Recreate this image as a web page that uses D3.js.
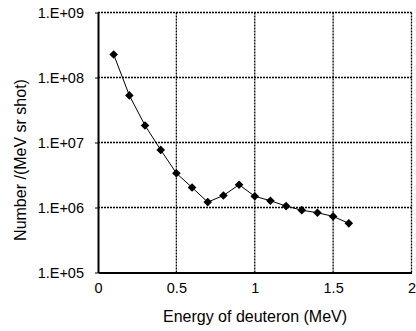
<!DOCTYPE html>
<html>
<head>
<meta charset="utf-8">
<script src="https://cdn.jsdelivr.net/npm/d3@7"></script>
<style>
  body { margin: 0; background: #fff; }
  text { font-family: "Liberation Sans", Arial, sans-serif; fill: #000; }
</style>
</head>
<body>
<svg id="chart" width="416" height="331"></svg>
<script>
// data
let energy = [0.1, 0.2, 0.3, 0.4, 0.5, 0.6, 0.7, 0.8, 0.9, 1.0, 1.1, 1.2, 1.3, 1.4, 1.5, 1.6];
let number = [2.26e8, 5.3e7, 1.83e7, 7.7e6, 3.37e6, 2.03e6, 1.21e6, 1.53e6, 2.24e6, 1.49e6, 1.27e6, 1.05e6, 9.1e5, 8.3e5, 7.3e5, 5.7e5];
let xTicks = [0, 0.5, 1, 1.5, 2];
let xTickLabels = ["0", "0.5", "1", "1.5", "2"];
let yTicks = [1e5, 1e6, 1e7, 1e8, 1e9];
let yTickLabels = ["1.E+05", "1.E+06", "1.E+07", "1.E+08", "1.E+09"];

let svg = d3.select("#chart");
let pLeft = 98, pRight = 411.5, pTop = 12.5, pBottom = 272.5;

let xscale = d3.scaleLinear().domain([0, 2]).range([pLeft, pRight]);
let yscale = d3.scaleLog().domain([1e5, 1e9]).range([pBottom, pTop]);

let grid = svg.append("g");
// vertical grid lines
grid.selectAll(".vg")
    .data(xTicks.filter(d => d > 0))
    .enter().append("line")
    .attr("x1", d => xscale(d)).attr("x2", d => xscale(d))
    .attr("y1", pTop).attr("y2", pBottom)
    .attr("stroke", "#000").attr("stroke-width", 1.3)
    .attr("stroke-dasharray", "2,1");
// horizontal grid lines
grid.selectAll(".hg")
    .data(yTicks.filter(d => d > 1e5))
    .enter().append("line")
    .attr("x1", pLeft).attr("x2", pRight)
    .attr("y1", d => yscale(d)).attr("y2", d => yscale(d))
    .attr("stroke", "#000").attr("stroke-width", 1.3)
    .attr("stroke-dasharray", "2,1");

// y axis
let yAxis = d3.axisLeft(yscale)
    .tickValues(yTicks)
    .tickFormat((d, i) => yTickLabels[i])
    .tickSizeInner(3).tickSizeOuter(0).tickPadding(11);
let gy = svg.append("g").attr("transform", `translate(${pLeft},0)`).call(yAxis);
gy.select(".domain").attr("stroke-width", 2);

// x axis
let xAxis = d3.axisBottom(xscale)
    .tickValues(xTicks)
    .tickFormat((d, i) => xTickLabels[i])
    .tickSizeInner(0).tickSizeOuter(0).tickPadding(10);
let gx = svg.append("g").attr("transform", `translate(0,${pBottom})`).call(xAxis);
gx.select(".domain").attr("stroke-width", 2);

svg.selectAll(".tick text")
    .style("font-size", "14.5px")
    .style("font-family", "'Liberation Sans', Arial, sans-serif");

// series line
let pts = energy.map((e, i) => ({ e: e, n: number[i] }));
let dline = d3.line().x(d => xscale(d.e)).y(d => yscale(d.n));
svg.append("path")
    .datum(pts)
    .attr("fill", "none")
    .attr("stroke", "#000")
    .attr("stroke-width", 1)
    .attr("d", dline);

// diamond markers
let r = 4.3;
svg.selectAll(".mk")
    .data(pts)
    .enter().append("path")
    .attr("d", d => {
        let cx = xscale(d.e), cy = yscale(d.n);
        return `M${cx},${cy - r}L${cx + r},${cy}L${cx},${cy + r}L${cx - r},${cy}Z`;
    })
    .attr("fill", "#000");

// titles
svg.append("text")
    .attr("x", 255)
    .attr("y", 322)
    .attr("text-anchor", "middle")
    .style("font-size", "16px")
    .text("Energy of deuteron (MeV)");
svg.append("text")
    .attr("transform", "translate(26,160) rotate(-90)")
    .attr("text-anchor", "middle")
    .style("font-size", "16px")
    .text("Number  /(MeV sr shot)");
</script>
</body>
</html>
